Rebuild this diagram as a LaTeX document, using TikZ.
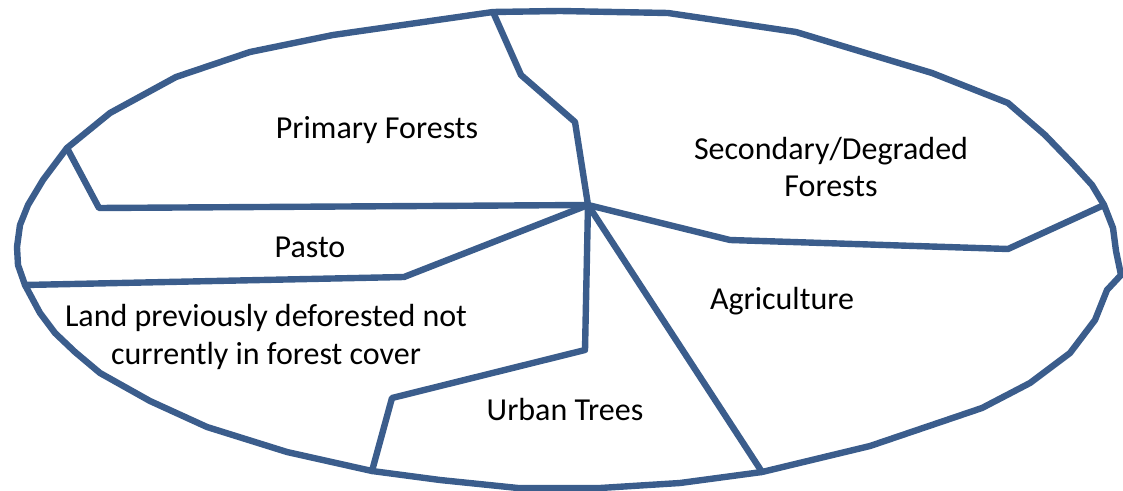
\documentclass[tikz,border=0pt]{standalone}
\usepackage{fontspec}
\setmainfont{Carlito}
\definecolor{edge}{RGB}{59,93,140}
\begin{document}
\begin{tikzpicture}[x=0.75pt,y=-0.75pt,
  bound/.style={draw=edge,line width=4.8pt,line join=round,line cap=round},
  lbl/.style={font=\fontsize{24}{28}\selectfont,align=center,text=black,inner sep=0pt}]
\useasboundingbox (0,0) rectangle (1123,491);
% junctions
\coordinate (T) at (493,12);
\coordinate (C) at (588,205);
\coordinate (R) at (1104,205);
\coordinate (UL) at (67,148);
\coordinate (L) at (25,285);
\coordinate (BU) at (372,471);
\coordinate (BA) at (762,472);
% outer outline
\draw[bound] (T) -- (560,11) -- (668,13) -- (796,32) -- (932,73) -- (1008,103) -- (1045,135)
  -- (1072,163) -- (1092,185) -- (R)
  -- (1113,228) -- (1116,251) -- (1121,275) -- (1107,290) -- (1095,320) -- (1070,353)
  -- (1030,383) -- (982,408) -- (870,446) -- (BA)
  -- (680,483) -- (600,488) -- (518,488) -- (440,480) -- (BU)
  -- (287,452) -- (207,427) -- (150,401) -- (100,373) -- (75,352) -- (55,333) -- (40,313) -- (L)
  -- (18,265) -- (17,247) -- (20,225) -- (28,205) -- (43,180) -- (UL)
  -- (110,113) -- (176,77) -- (250,52) -- (333,35) -- cycle;
% inner boundaries
\draw[bound] (T) -- (521,75) -- (575,122) -- (C);
\draw[bound] (UL) -- (99,208) -- (C);
\draw[bound] (C) -- (404,277) -- (L);
\draw[bound] (C) -- (585,350) -- (392,398) -- (BU);
\draw[bound] (C) -- (BA);
\draw[bound] (C) -- (730,240) -- (1008,249) -- (R);
% labels
\node[lbl] (pf) at (377,130) {Primary Forests};
\node[lbl] (sd) at (831,167) {Secondary/Degraded\\Forests};
\node[lbl] (pa) at (310,247) {Pasto};
\node[lbl] (ag) at (782,301) {Agriculture};
\node[lbl] (ld) at (266,337) {Land previously deforested not\\currently in forest cover};
\node[lbl] (ut) at (565,410) {Urban Trees};
\end{tikzpicture}
\end{document}
